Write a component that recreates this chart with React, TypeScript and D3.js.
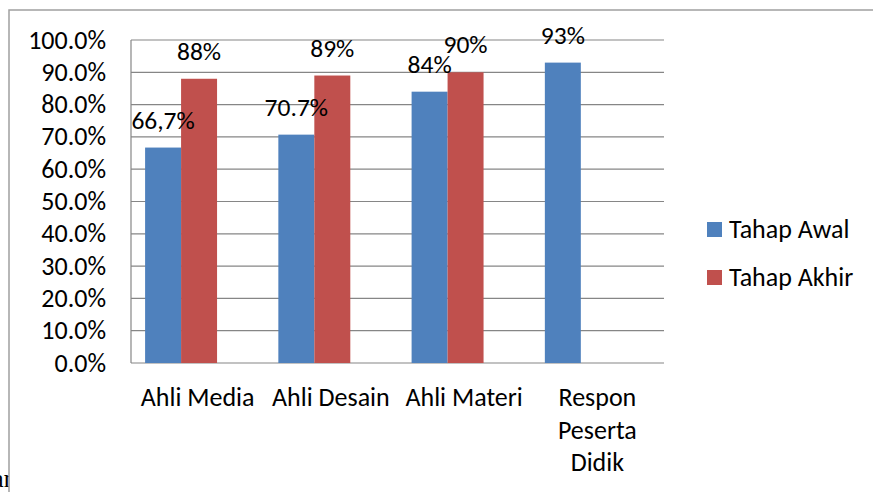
import { useEffect, useRef } from "react";
import * as d3 from "d3";

const categories = ["Ahli Media", "Ahli Desain", "Ahli Materi", "Respon Peserta Didik"];
const categoryLines = [["Ahli Media"], ["Ahli Desain"], ["Ahli Materi"], ["Respon", "Peserta", "Didik"]];
const seriesNames = ["Tahap Awal", "Tahap Akhir"];
const tahapAwal = [66.7, 70.7, 84, 93];
const tahapAkhir = [88, 89, 90, null];
const labelsAwal = ["66,7%", "70.7%", "84%", "93%"];
const labelsAkhir = ["88%", "89%", "90%", ""];
const yTicks = [0, 10, 20, 30, 40, 50, 60, 70, 80, 90, 100];
const colors = ["#4F81BD", "#C0504D"];

export default function App() {
  const ref = useRef<SVGSVGElement>(null);

  useEffect(() => {
    const svg = d3.select(ref.current);
    svg.selectAll("*").remove();
    const font = "Carlito, 'Open Sans', sans-serif";

    const plot = { left: 131, right: 664, top: 40, bottom: 363 };

    // bit of the document caption showing behind the chart
    svg
      .append("text")
      .attr("x", 12)
      .attr("y", 487)
      .attr("text-anchor", "end")
      .style("font-family", "'Liberation Serif', serif")
      .style("font-size", "25px")
      .text("Gambar");

    // chart box
    svg
      .append("rect")
      .attr("x", 9)
      .attr("y", 10)
      .attr("width", 900)
      .attr("height", 520)
      .attr("fill", "#fff")
      .attr("stroke", "#a0a0a0")
      .attr("stroke-width", 1.5);

    const y = d3.scaleLinear().domain([0, 100]).range([plot.bottom, plot.top]);
    const xc = d3.scaleBand().domain(categories).range([plot.left, plot.right]);
    const x = d3
      .scaleBand()
      .domain(categories)
      .range([plot.left, plot.right])
      .paddingInner(0.46)
      .paddingOuter(0.23)
      .align(0.23);
    const xs = d3.scaleBand().domain(seriesNames).range([0, x.bandwidth()]);

    // gridlines
    svg
      .selectAll("line.grid")
      .data(yTicks)
      .enter()
      .append("line")
      .attr("x1", plot.left)
      .attr("x2", plot.right)
      .attr("y1", (d) => y(d))
      .attr("y2", (d) => y(d))
      .attr("stroke", "#868686")
      .attr("stroke-width", 1.2);

    // y labels
    svg
      .selectAll("text.ytick")
      .data(yTicks)
      .enter()
      .append("text")
      .attr("x", 106)
      .attr("y", (d) => y(d))
      .attr("dy", "0.33em")
      .attr("text-anchor", "end")
      .style("font-family", font)
      .style("font-size", "26px")
      .text((d) => d.toFixed(1) + "%");

    // bars
    const series = [tahapAwal, tahapAkhir];
    const labels = [labelsAwal, labelsAkhir];
    series.forEach((vals, si) => {
      const bx = (i: number) => (x(categories[i]) as number) + (xs(seriesNames[si]) as number);
      svg
        .append("g")
        .selectAll("rect")
        .data(vals.map((v, i) => ({ v, i })).filter((d) => d.v != null))
        .enter()
        .append("rect")
        .attr("x", (d) => bx(d.i))
        .attr("width", xs.bandwidth())
        .attr("y", (d) => y(d.v as number))
        .attr("height", (d) => y(0) - y(d.v as number))
        .attr("fill", colors[si]);
    });
    series.forEach((vals, si) => {
      const bx = (i: number) => (x(categories[i]) as number) + (xs(seriesNames[si]) as number);
      svg
        .append("g")
        .selectAll("text")
        .data(vals.map((v, i) => ({ v, i })).filter((d) => d.v != null))
        .enter()
        .append("text")
        .attr("x", (d) => bx(d.i) + xs.bandwidth() / 2)
        .attr("y", (d) => y(d.v as number) - 19)
        .attr("text-anchor", "middle")
        .style("font-family", font)
        .style("font-size", "25.5px")
        .text((d) => labels[si][d.i]);
    });

    // vertical axis line
    svg
      .append("line")
      .attr("x1", plot.left)
      .attr("x2", plot.left)
      .attr("y1", plot.top)
      .attr("y2", plot.bottom)
      .attr("stroke", "#868686")
      .attr("stroke-width", 1.2);

    // category labels
    categories.forEach((c, i) => {
      const t = svg
        .append("text")
        .attr("text-anchor", "middle")
        .style("font-family", font)
        .style("font-size", "26px");
      categoryLines[i].forEach((line, li) => {
        t.append("tspan")
          .attr("x", (xc(c) as number) + xc.bandwidth() / 2)
          .attr("y", 406 + li * 32.5)
          .text(line);
      });
    });

    // legend
    const legend = svg
      .selectAll("g.legend")
      .data(seriesNames)
      .enter()
      .append("g")
      .attr("transform", (d, i) => `translate(707,${222 + i * 48})`);
    legend.append("rect").attr("width", 15).attr("height", 15).attr("fill", (d, i) => colors[i]);
    legend
      .append("text")
      .attr("x", 22)
      .attr("y", 7.5)
      .attr("dy", "0.33em")
      .style("font-family", font)
      .style("font-size", "26px")
      .text((d) => d);
  }, []);

  return (
    <svg
      ref={ref}
      width={873}
      height={492}
      style={{ position: "absolute", left: 0, top: 0, background: "#fff" }}
    />
  );
}
